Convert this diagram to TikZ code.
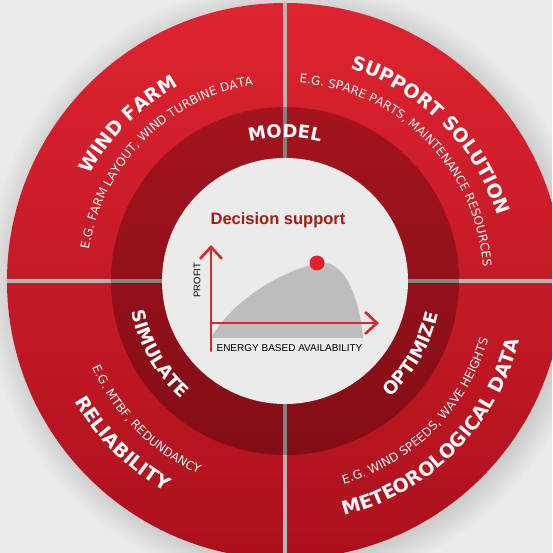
\documentclass[tikz,border=0pt]{standalone}
\usepackage{fontspec}
\setmainfont{Liberation Sans}
\newfontfamily\ringfont{DejaVu Sans}
\usetikzlibrary{arrows.meta,decorations.text,shadows}
\definecolor{bgcol}{HTML}{EBEBEB}
\definecolor{ringtop}{HTML}{DE2430}
\definecolor{ringbot}{HTML}{AC101C}
\definecolor{darktop}{HTML}{A3141E}
\definecolor{darkbot}{HTML}{820C15}
\definecolor{gapout}{HTML}{B4B4B4}
\definecolor{gapin}{HTML}{828282}
\definecolor{axisred}{HTML}{D42C2C}
\definecolor{titlered}{HTML}{A11E12}
\definecolor{areagray}{HTML}{BDBDBD}
\definecolor{dotred}{HTML}{E3202B}
\newcommand\bigfont{\ringfont\bfseries\fontsize{19}{19}\selectfont}
\newcommand\midfont{\ringfont\bfseries\fontsize{18}{18}\selectfont}
\newcommand\subfont{\ringfont\fontsize{12}{12}\selectfont}
\tikzset{
  ringtext/.style 2 args={decorate, decoration={text along path, text align=center, text color=white, text={|#1|#2}}},
  axis/.style={draw=axisred, line width=2.6pt, ->},
}
\begin{document}
\begin{tikzpicture}[x=1pt, y=1pt, line join=round, line cap=round, >={Straight Barb[length=12pt,width=22pt]}]
			\def\R{278}
			\def\rd{174}
			\def\ri{123}
			\clip (-285,-272) rectangle (267,281);
			\fill[bgcol] (-285,-272) rectangle (267,281);
			\path[circular drop shadow={shadow scale=1.09, shadow xshift=3pt, shadow yshift=-3pt, opacity=.45}] (0,0) circle (\R);
			\shade[top color=ringtop, bottom color=ringbot] (0,0) circle (\R);
			\foreach \a in {0,90}
			\draw[gapout, line width=4pt, line cap=butt] (\a:-\R) -- (\a:\R);
			\shade[top color=darktop, bottom color=darkbot] (0,0) circle (\rd);
			\foreach \a in {0,90}
			\draw[gapin, line width=4pt, line cap=butt] (\a:-\rd) -- (\a:\rd);
			\fill[bgcol] (0,0) circle (\ri);
			\path[ringtext={\bigfont}{WIND FARM}] (175:222) arc (175:95:222);
			\path[ringtext={\subfont}{E.G. FARM LAYOUT, WIND TURBINE DATA}] (180:198.5) arc (180:90:198.5);
			\path[ringtext={\bigfont}{SUPPORT SOLUTION}] (90:222) arc (90:0:222);
			\path[ringtext={\subfont}{E.G. SPARE PARTS, MAINTENANCE RESOURCES}] (95:198.5) arc (95:-5:198.5);
			\path[ringtext={\bigfont}{RELIABILITY}] (180:242) arc (180:270:242);
			\path[ringtext={\subfont}{E.G. MTBF, REDUNDANCY}] (180:211.5) arc (180:270:211.5);
			\path[ringtext={\bigfont}{METEOROLOGICAL DATA}] (265:242) arc (265:365:242);
			\path[ringtext={\subfont}{E.G. WIND SPEEDS, WAVE HEIGHTS}] (265:211.5) arc (265:365:211.5);
			\path[ringtext={\midfont}{MODEL}] (130:143.5) arc (130:50:143.5);
			\path[ringtext={\midfont}{SIMULATE}] (170:156.5) arc (170:250:156.5);
			\path[ringtext={\midfont}{OPTIMIZE}] (290:156.5) arc (290:370:156.5);
			\path
			(-74,-42) coordinate (O)
			(-74,36) coordinate (ytip)
			(-74,-70) coordinate (ybot)
			(94,-42) coordinate (xtip)
			(32,18) coordinate (opt)
			;
			\fill[areagray] (-74,-57) .. controls (-52,-18) and (0,12) .. (35,18) .. controls (60,22) and (75,-20) .. (78,-57) -- cycle;
			\draw[axis] (ybot) -- (ytip);
			\draw[axis] (O) -- (xtip);
			\fill[dotred] (opt) circle (7.5);
			\node[titlered, font=\bfseries\fontsize{16.5}{16.5}\selectfont] (title) at (-7,61) {Decision support};
			\node[rotate=90, font=\fontsize{9.5}{9.5}\selectfont] (profit) at (-88,1) {PROFIT};
			\node[font=\fontsize{10}{10}\selectfont] (eba) at (4.5,-67) {ENERGY BASED AVAILABILITY};
\end{tikzpicture}
\end{document}
